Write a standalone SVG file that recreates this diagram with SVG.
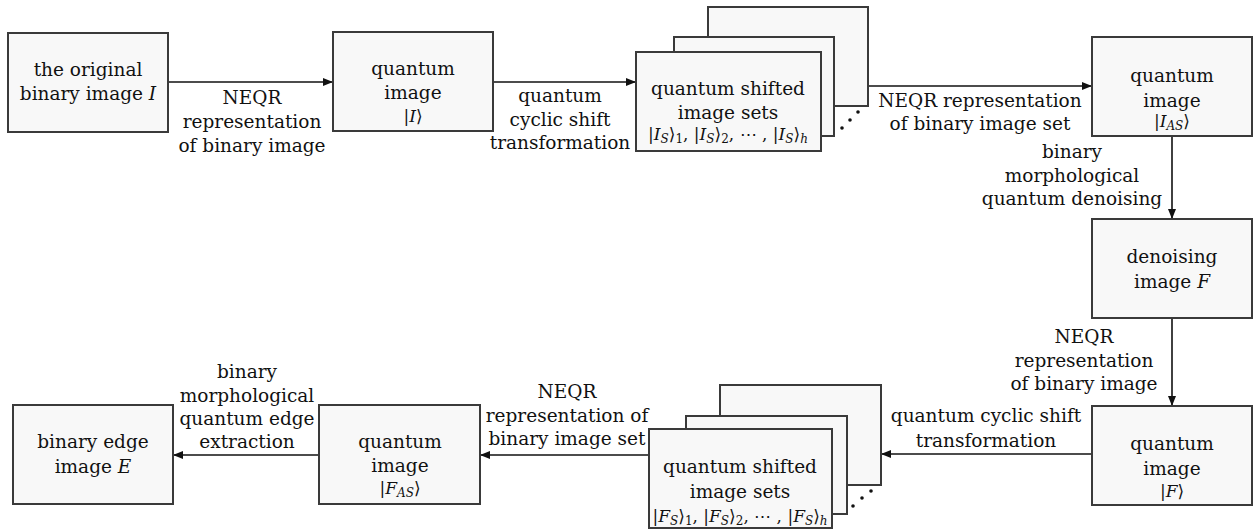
<svg xmlns="http://www.w3.org/2000/svg" width="1257" height="531" viewBox="0 0 1257 531">
<defs>
<style>
.box{fill:#f8f8f8;stroke:#3a3a3a;stroke-width:2}
.t{font-family:"DejaVu Serif","Liberation Serif",serif;font-size:18.5px;fill:#111;text-anchor:middle}
.m{font-family:"DejaVu Serif","Liberation Serif",serif;font-size:17px;fill:#111;text-anchor:middle}
.i{font-style:italic}
.s{font-size:12px}
.ln{stroke:#111;stroke-width:1.6;fill:none}
.dot{fill:#111}
</style>
<marker id="ah" viewBox="0 0 10 10" refX="10" refY="5" markerWidth="10" markerHeight="10" markerUnits="userSpaceOnUse" orient="auto">
<path d="M0,1 L10,5 L0,9 Z" fill="#111"/>
</marker>
</defs>
<rect width="1257" height="531" fill="#fff"/>

<g id="connectors">
<line class="ln" x1="169" y1="82" x2="333" y2="82" marker-end="url(#ah)"/>
<line class="ln" x1="494" y1="82" x2="636" y2="82" marker-end="url(#ah)"/>
<line class="ln" x1="868" y1="86" x2="1092" y2="86" marker-end="url(#ah)"/>
<line class="ln" x1="1172" y1="137" x2="1172" y2="219" marker-end="url(#ah)"/>
<line class="ln" x1="1172" y1="319" x2="1172" y2="406" marker-end="url(#ah)"/>
<line class="ln" x1="1091" y1="454" x2="881" y2="454" marker-end="url(#ah)"/>
<line class="ln" x1="649" y1="455" x2="480" y2="455" marker-end="url(#ah)"/>
<line class="ln" x1="319" y1="455" x2="173" y2="455" marker-end="url(#ah)"/>
<text class="t" x="252" y="104">NEQR</text>
<text class="t" x="252" y="128">representation</text>
<text class="t" x="252" y="152">of  binary image</text>
<text class="t" x="560" y="102">quantum</text>
<text class="t" x="560" y="126">cyclic shift</text>
<text class="t" x="560" y="149">transformation</text>
<text class="t" x="980" y="107">NEQR representation</text>
<text class="t" x="980" y="130">of binary image set</text>
<text class="t" x="1072" y="158">binary</text>
<text class="t" x="1072" y="182">morphological</text>
<text class="t" x="1072" y="205">quantum denoising</text>
<text class="t" x="1084" y="343">NEQR</text>
<text class="t" x="1084" y="367">representation</text>
<text class="t" x="1084" y="390">of  binary image</text>
<text class="t" x="986" y="422">quantum cyclic shift</text>
<text class="t" x="986" y="447">transformation</text>
<text class="t" x="567" y="398">NEQR</text>
<text class="t" x="567" y="422">representation of</text>
<text class="t" x="567" y="445">binary image set</text>
<text class="t" x="247" y="378">binary</text>
<text class="t" x="247" y="402">morphological</text>
<text class="t" x="247" y="425">quantum edge</text>
<text class="t" x="247" y="448">extraction</text>
</g>

<g id="n1">
<rect class="box" x="8" y="33" width="160" height="99"/>
<text class="t" x="88" y="76">the original</text>
<text class="t" x="88" y="100">binary image <tspan class="i">I</tspan></text>
</g>

<g id="n2">
<rect class="box" x="333" y="32" width="160" height="99"/>
<text class="t" x="413" y="75">quantum</text>
<text class="t" x="413" y="99">image</text>
<text class="m" x="413" y="122">|<tspan class="i">I</tspan>⟩</text>
</g>

<g id="n3">
<rect class="box" x="708" y="7" width="160" height="99"/>
<rect class="box" x="674" y="37" width="160" height="99"/>
<rect class="box" x="636" y="52" width="185" height="99"/>
<text class="t" x="728" y="95">quantum shifted</text>
<text class="t" x="728" y="119">image sets</text>
<text class="m" x="728" y="140">|<tspan class="i">I</tspan><tspan class="i s" dy="3">S</tspan><tspan dy="-3">⟩</tspan><tspan class="s" dy="3">1</tspan><tspan dy="-3">, |</tspan><tspan class="i">I</tspan><tspan class="i s" dy="3">S</tspan><tspan dy="-3">⟩</tspan><tspan class="s" dy="3">2</tspan><tspan dy="-3">, ⋯ , |</tspan><tspan class="i">I</tspan><tspan class="i s" dy="3">S</tspan><tspan dy="-3">⟩</tspan><tspan class="i s" dy="3">h</tspan></text>
<circle class="dot" cx="842" cy="128" r="1.8"/>
<circle class="dot" cx="850" cy="120" r="1.8"/>
<circle class="dot" cx="858" cy="112" r="1.8"/>
</g>

<g id="n4">
<rect class="box" x="1092" y="37" width="160" height="99"/>
<text class="t" x="1172" y="82">quantum</text>
<text class="t" x="1172" y="107">image</text>
<text class="m" x="1172" y="127">|<tspan class="i">I</tspan><tspan class="i s" dy="3">AS</tspan><tspan dy="-3">⟩</tspan></text>
</g>

<g id="n5">
<rect class="box" x="1092" y="219" width="160" height="99"/>
<text class="t" x="1172" y="263">denoising</text>
<text class="t" x="1172" y="288">image  <tspan class="i">F</tspan></text>
</g>

<g id="n6">
<rect class="box" x="1092" y="406" width="160" height="99"/>
<text class="t" x="1172" y="450">quantum</text>
<text class="t" x="1172" y="475">image</text>
<text class="m" x="1172" y="497">|<tspan class="i">F</tspan>⟩</text>
</g>

<g id="n7">
<rect class="box" x="720" y="385" width="161" height="100"/>
<rect class="box" x="686" y="416" width="161" height="98"/>
<rect class="box" x="649" y="429" width="183" height="99"/>
<text class="t" x="740" y="473">quantum shifted</text>
<text class="t" x="740" y="498">image sets</text>
<text class="m" x="740" y="522">|<tspan class="i">F</tspan><tspan class="i s" dy="3">S</tspan><tspan dy="-3">⟩</tspan><tspan class="s" dy="3">1</tspan><tspan dy="-3">, |</tspan><tspan class="i">F</tspan><tspan class="i s" dy="3">S</tspan><tspan dy="-3">⟩</tspan><tspan class="s" dy="3">2</tspan><tspan dy="-3">, ⋯ , |</tspan><tspan class="i">F</tspan><tspan class="i s" dy="3">S</tspan><tspan dy="-3">⟩</tspan><tspan class="i s" dy="3">h</tspan></text>
<circle class="dot" cx="853" cy="506" r="1.8"/>
<circle class="dot" cx="862" cy="498" r="1.8"/>
<circle class="dot" cx="871" cy="491" r="1.8"/>
</g>

<g id="n8">
<rect class="box" x="319" y="405" width="161" height="99"/>
<text class="t" x="400" y="448">quantum</text>
<text class="t" x="400" y="472">image</text>
<text class="m" x="400" y="494">|<tspan class="i">F</tspan><tspan class="i s" dy="3">AS</tspan><tspan dy="-3">⟩</tspan></text>
</g>

<g id="n9">
<rect class="box" x="13" y="405" width="160" height="99"/>
<text class="t" x="93" y="448">binary edge</text>
<text class="t" x="93" y="473">image  <tspan class="i">E</tspan></text>
</g>
</svg>
